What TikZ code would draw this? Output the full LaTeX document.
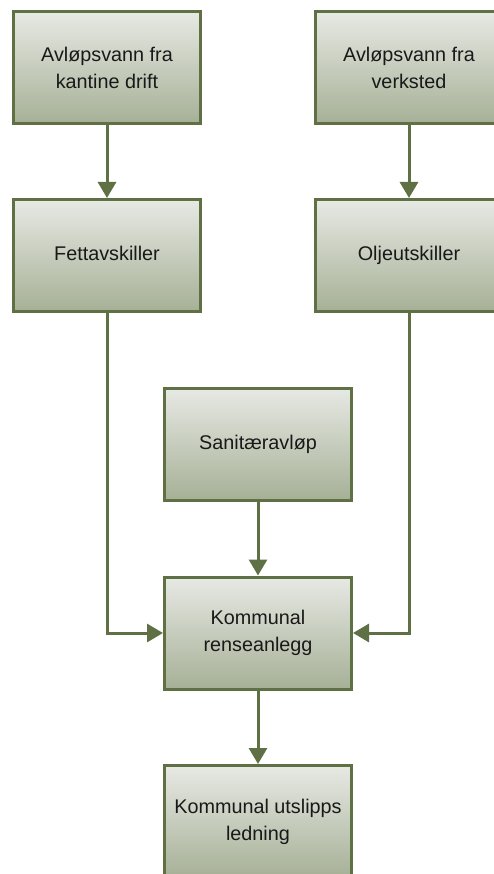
\documentclass[tikz,border=0pt]{standalone}
\usepackage{fontspec}
\setmainfont{Liberation Sans}
\usetikzlibrary{arrows.meta}
\definecolor{edgegreen}{RGB}{94,112,68}
\definecolor{filltop}{RGB}{231,233,228}
\definecolor{fillbot}{RGB}{166,176,150}
\definecolor{txt}{RGB}{25,25,25}
\tikzset{
  box/.style={draw=edgegreen, line width=3pt, top color=filltop, bottom color=fillbot,
    minimum width=187pt, minimum height=112pt, inner sep=0pt, align=center,
    text=txt, font=\fontsize{19.8}{27}\selectfont},
  flow/.style={draw=edgegreen, line width=3pt, -{Triangle[length=16pt,width=18pt]}}
}
\begin{document}
\begin{tikzpicture}[x=1pt,y=-1pt]
\useasboundingbox (0,0) rectangle (494,874);
\clip (0,0) rectangle (494,874);
\node[box] (a) at (107,67.5) {Avløpsvann fra\\kantine drift};
\node[box] (b) at (409,67.5) {Avløpsvann fra\\verksted};
\node[box] (c) at (107,255.5) {Fettavskiller\strut};
\node[box] (d) at (409,255.5) {Oljeutskiller\strut};
\node[box] (e) at (258,444) {Sanitæravløp\strut};
\node[box] (f) at (258,633) {Kommunal\\renseanlegg};
\node[box] (g) at (258,821.5) {Kommunal utslipps\\ledning};
\draw[flow] (a) -- (c);
\draw[flow] (b) -- (d);
\draw[flow] (e) -- (f);
\draw[flow] (f) -- (g);
\draw[flow] (c.south) |- (f.west);
\draw[flow] (d.south) |- (f.east);
\end{tikzpicture}
\end{document}
